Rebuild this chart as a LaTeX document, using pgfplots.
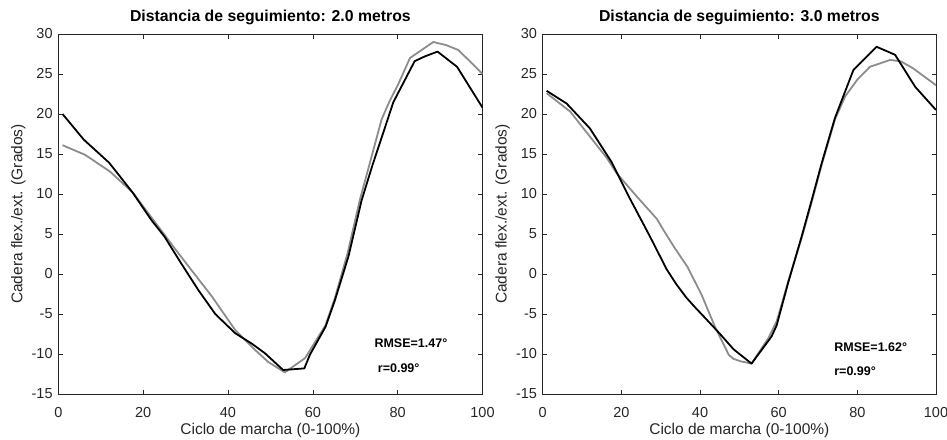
\documentclass[border=0pt]{standalone}
\usepackage{fontspec}
\setmainfont{Liberation Sans}
\usepackage{pgfplots}
\pgfplotsset{compat=1.18}
\definecolor{axgray}{RGB}{38,38,38}
\definecolor{curvegray}{RGB}{140,140,140}
\tikzset{
  annot/.style={font=\fontsize{12.5}{14}\selectfont\bfseries, anchor=west, inner sep=0pt},
  blk/.style={black, line width=1.8pt, line join=round},
  gry/.style={curvegray, line width=1.8pt, line join=round},
}
\pgfplotsset{
 mystyle/.style={
  scale only axis, height=360pt, anchor=south west,
  xmin=0,xmax=100,ymin=-15,ymax=30,
  xtick={0,20,...,100}, ytick={-15,-10,...,30},
  tick align=inside, major tick length=4.5pt,
  xtick pos=both, ytick pos=both,
  tick style={axgray, line width=0.6pt},
  axis line style={axgray, line width=0.8pt},
  /pgf/number format/assume math mode=true,
  ticklabel style={font=\fontsize{14.5}{16}\selectfont, text=axgray},
  xticklabel style={anchor=base, yshift=-23pt},
  yticklabel style={anchor=east, inner sep=0pt, xshift=-5.5pt},
  xlabel={Ciclo de marcha (0-100\%)},
  ylabel={Cadera flex./ext. (Grados)},
  xlabel style={font=\fontsize{15.5}{18}\selectfont, text=axgray, at={(axis description cs:0.5,0)}, anchor=base, yshift=-40pt},
  ylabel style={font=\fontsize{15.5}{18}\selectfont, text=axgray, at={(axis description cs:0,0.5)}, anchor=center, yshift=40pt},
  title style={font=\fontsize{15.8}{18}\selectfont\bfseries, at={(axis description cs:0.5,1)}, anchor=base, yshift=6.3pt},
 }
}
\pgfplotstableread{
x y
1 20.0
6 16.8
12 13.9
17.5 10.2
22 6.7
25 4.7
29 1.3
33 -2.0
37 -5.0
41.7 -7.4
45.6 -8.7
48.7 -9.9
53 -12.0
58 -11.8
59.3 -10.1
63 -6.6
65.2 -3.3
68.4 2.2
71.5 9.2
74 13.5
79 21.5
84 26.6
86.4 27.2
89.4 27.8
94 25.9
100 20.8
}\leftblack
\pgfplotstableread{
x y
1 16.1
6.3 14.9
12.2 12.8
17.7 10.1
21.2 7.6
28.3 2.6
36.2 -2.8
41.7 -7.0
46.4 -9.5
49.5 -11.0
53.4 -12.3
58.2 -10.5
63 -6.4
65.2 -3.0
68.2 2.6
71.1 9.3
73 13.0
76.2 19.3
78 21.5
80.2 23.8
82.9 27.0
88.4 29.0
91.5 28.6
94.3 28.0
97 26.6
100 25.0
}\leftgray
\pgfplotstableread{
x y
1 22.9
6.1 21.3
12 18.2
17.5 14.0
22.2 9.4
27.3 4.66
31.5 0.6
34 -1.3
36.6 -3.0
39 -4.3
41.5 -5.6
45.1 -7.5
48.5 -9.4
53.1 -11.2
58.2 -7.8
59.5 -6.4
62.4 -1.1
65.9 4.8
68.4 9.25
70.9 13.8
74.3 19.5
79 25.5
84.9 28.4
89.6 27.4
94.7 23.4
100 20.5
}\rightblack
\pgfplotstableread{
x y
1 22.6
7.0 20.3
16.3 14.5
18.8 12.6
23.9 9.7
29.0 6.9
30.7 5.5
33.5 3.3
36.8 0.9
40.4 -2.6
43.8 -6.6
47.3 -10.1
48.5 -10.6
50.2 -10.9
53.1 -11.2
57.4 -8.0
59.5 -5.9
62.4 -1.0
65.9 4.6
68.4 9.0
70.9 13.6
74.3 19.3
76.9 22.2
80 24.3
83.2 25.9
88.3 26.75
91 26.6
94.2 25.7
100 23.6
}\rightgray
\begin{document}
\begin{tikzpicture}
\useasboundingbox (0,0) rectangle (947pt,439pt);
\begin{axis}[mystyle, at={(58.3pt,45pt)}, width=424.2pt,
  title={Distancia de seguimiento: 2.0 metros}]
\addplot[gry] table {\leftgray};
\addplot[blk] table {\leftblack};
\node[annot] at (axis cs:74.5,-8.7) {RMSE=1.47°};
\node[annot] at (axis cs:75.3,-11.8) {r=0.99°};
\end{axis}
\begin{axis}[mystyle, at={(542.7pt,45pt)}, width=393.3pt,
  title={Distancia de seguimiento: 3.0 metros}]
\addplot[gry] table {\rightgray};
\addplot[blk] table {\rightblack};
\node[annot] at (axis cs:74.1,-9.1) {RMSE=1.62°};
\node[annot] at (axis cs:74.1,-12.2) {r=0.99°};
\end{axis}
\end{tikzpicture}
\end{document}
